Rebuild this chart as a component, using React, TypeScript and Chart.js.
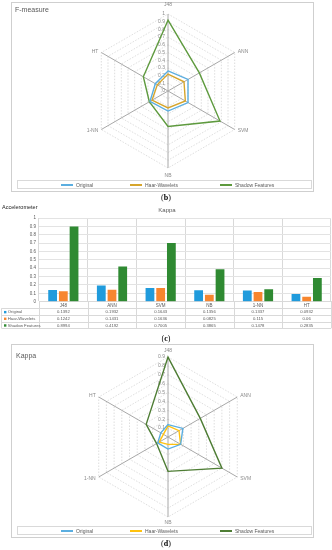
import React, { useEffect, useRef } from "react";
import { Chart, registerables } from "chart.js";
Chart.register(...registerables);

const categories = ["J48", "ANN", "SVM", "NB", "1-NN", "HT"];
const seriesNames = ["Original", "Haar-Wavelets", "Shadow Features"];

// F-measure (radar b)
const fOriginal = [0.26, 0.3, 0.3, 0.26, 0.27, 0.19];
const fHaar = [0.22, 0.24, 0.26, 0.22, 0.24, 0.16];
const fShadow = [0.92, 0.47, 0.78, 0.46, 0.28, 0.37];

// Kappa (bar c + radar d), from the data table
const kOriginal = [0.1392, 0.1932, 0.1643, 0.1356, 0.1337, 0.0932];
const kHaar = [0.1242, 0.1431, 0.1636, 0.0825, 0.115, 0.06];
const kShadow = [0.8994, 0.4192, 0.7005, 0.3865, 0.1478, 0.2835];

const fRadarTicks = [0, 0.1, 0.2, 0.3, 0.4, 0.5, 0.6, 0.7, 0.8, 0.9, 1];
const kRadarTicks = [0.1, 0.2, 0.3, 0.4, 0.5, 0.6, 0.7, 0.8, 0.9];

const FONT = '"Liberation Sans", Arial, sans-serif';

const radarColorsB = ["#5BAEE0", "#D6A52C", "#5E9A3E"];
const radarColorsD = ["#5BAEE0", "#FFC20E", "#4E7D34"];
const barColors = ["#209BDC", "#F7862F", "#2F8A32"];

function Txt(props: { x: number; y: number; size: number; children: any; center?: boolean; color?: string; weight?: any; family?: string }) {
  const { x, y, size, center, color, weight, family } = props;
  return (
    <div
      style={{
        position: "absolute",
        left: x,
        top: y - size / 2,
        lineHeight: size + "px",
        fontSize: size,
        color: color || "#595959",
        fontWeight: weight || "normal",
        fontFamily: family || FONT,
        whiteSpace: "nowrap",
        transform: center ? "translateX(-50%)" : "translateZ(0)",
        willChange: "transform",
        background: "transparent",
      }}
    >
      {props.children}
    </div>
  );
}

function makeRadarPlugin(tickVals: number[], topOff: number, botOff: number) {
  return {
    id: "radarText",
    beforeDatasetsDraw(chart: any) {
      const s = chart.scales.r;
      const ctx = chart.ctx;
      ctx.save();
      ctx.font = "5px " + FONT;
      ctx.fillStyle = "#8A8A8A";
      ctx.textAlign = "right";
      ctx.textBaseline = "middle";
      tickVals.forEach((v) => {
        const d = s.getDistanceFromCenterForValue(v);
        ctx.fillText(String(v), s.xCenter - 3, s.yCenter - d);
      });
      const r = s.drawingArea;
      categories.forEach((lab, i) => {
        const p = s.getPointPosition(i, r);
        let x = p.x;
        let y = p.y;
        let align = "center";
        if (i === 0) {
          x = s.xCenter;
          y = s.yCenter - r - topOff;
        } else if (i === 3) {
          x = s.xCenter;
          y = s.yCenter + r + botOff;
        } else if (i < 3) {
          x += 3;
          align = "left";
          y += i === 1 ? -1 : 1.5;
        } else {
          x -= 3;
          align = "right";
          y += i === 5 ? -1 : 1.5;
        }
        ctx.textAlign = align;
        ctx.fillText(lab, x, y);
      });
      ctx.restore();
    },
  };
}

function RadarChart(props: { top: number; height: number; pad: any; series: number[][]; colors: string[]; max: number; ticks: number[]; topOff: number; botOff: number }) {
  const ref = useRef<HTMLCanvasElement>(null);
  useEffect(() => {
    const chart = new Chart(ref.current as HTMLCanvasElement, {
      type: "radar",
      data: {
        labels: categories,
        datasets: props.series.map((d, i) => ({
          label: seriesNames[i],
          data: d,
          borderColor: props.colors[i],
          backgroundColor: "transparent",
          borderWidth: 1.4,
          fill: false,
          pointRadius: 0,
          pointHoverRadius: 0,
        })),
      },
      options: {
        responsive: false,
        animation: false,
        layout: { padding: props.pad },
        plugins: { legend: { display: false }, tooltip: { enabled: false } },
        scales: {
          r: {
            min: 0,
            max: props.max,
            ticks: { display: false, stepSize: 0.1 },
            pointLabels: { display: false },
            grid: { color: "#D6D6D6", lineWidth: 0.8 },
            border: { dash: [1.5, 1.5] },
            angleLines: { color: "#A8A8A8", lineWidth: 1 },
          } as any,
        },
      },
      plugins: [makeRadarPlugin(props.ticks, props.topOff, props.botOff)],
    } as any);
    return () => chart.destroy();
  }, []);
  return (
    <canvas
      ref={ref}
      width={332}
      height={props.height}
      style={{ position: "absolute", left: 0, top: props.top, width: 332, height: props.height, display: "block" }}
    />
  );
}

function Legend(props: { top: number; colors: string[] }) {
  const lines = [
    [61, 73],
    [130, 142],
    [220, 232],
  ];
  return (
    <div style={{ position: "absolute", left: 17, top: props.top, width: 295, height: 9, border: "1px solid #D9D9D9", boxSizing: "border-box" }}>
      {lines.map((l, i) => (
        <React.Fragment key={i}>
          <div style={{ position: "absolute", left: l[0] - 18, top: 3, width: l[1] - l[0], height: 1.5, background: props.colors[i] }} />
          <div style={{ position: "absolute", left: l[1] - 18 + 2.5, top: 0.8, fontSize: 5, lineHeight: "6px", color: "#595959", fontFamily: FONT, whiteSpace: "nowrap", willChange: "transform" }}>
            {seriesNames[i]}
          </div>
        </React.Fragment>
      ))}
    </div>
  );
}

const tablePlugin = {
  id: "dataTable",
  afterDraw(chart: any) {
    const ctx = chart.ctx;
    const xs = chart.scales.x;
    const a = chart.chartArea;
    const n = categories.length;
    const p0 = xs.getPixelForValue(0);
    const step = xs.getPixelForValue(1) - p0;
    const bounds = categories.map((_, i) => p0 - step / 2 + i * step).concat([p0 - step / 2 + n * step]);
    const headH = 6.6;
    const rowH = 6.67;
    const top = a.bottom;
    const y1 = top + headH;
    const bottom = y1 + rowH * 3;
    const leftX = 1.5;
    ctx.save();
    ctx.strokeStyle = "#D9D9D9";
    ctx.lineWidth = 1;
    ctx.beginPath();
    bounds.forEach((b) => {
      const bx = Math.round(b) + 0.5;
      ctx.moveTo(bx, top);
      ctx.lineTo(bx, bottom);
    });
    ctx.moveTo(leftX, y1);
    ctx.lineTo(leftX, bottom);
    for (let k = 0; k <= 3; k++) {
      const y = Math.round(y1 + k * rowH) + 0.5;
      ctx.moveTo(leftX, y);
      ctx.lineTo(bounds[n], y);
    }
    ctx.stroke();
    const rows = [kOriginal, kHaar, kShadow];
    ctx.textBaseline = "middle";
    ctx.font = "4.2px " + FONT;
    rows.forEach((row, k) => {
      const cy = y1 + rowH * (k + 0.5) + 0.5;
      ctx.fillStyle = barColors[k];
      ctx.fillRect(4, cy - 1.2, 2.4, 2.4);
      ctx.fillStyle = "#595959";
      ctx.textAlign = "left";
      ctx.fillText(seriesNames[k], 7.8, cy);
      ctx.textAlign = "center";
      row.forEach((v, i) => ctx.fillText(String(v), (bounds[i] + bounds[i + 1]) / 2, cy));
    });
    ctx.restore();
  },
};

function BarChart(props: { top: number; height: number }) {
  const ref = useRef<HTMLCanvasElement>(null);
  useEffect(() => {
    const chart = new Chart(ref.current as HTMLCanvasElement, {
      type: "bar",
      data: {
        labels: categories,
        datasets: [kOriginal, kHaar, kShadow].map((d, i) => ({
          label: seriesNames[i],
          data: d,
          backgroundColor: barColors[i],
          categoryPercentage: 0.66,
          barPercentage: 0.82,
        })),
      },
      options: {
        responsive: false,
        animation: false,
        layout: { padding: { top: 16, right: 1, bottom: 24.3, left: 0 } },
        plugins: { legend: { display: false }, tooltip: { enabled: false } },
        scales: {
          x: {
            grid: { color: "#D9D9D9", offset: true, drawTicks: false },
            border: { color: "#D9D9D9" },
            ticks: { font: { size: 4.5, family: FONT }, color: "#595959", padding: 1, maxRotation: 0, autoSkip: false },
            afterFit: (s: any) => {
              s.height = 6;
            },
          },
          y: {
            min: 0,
            max: 1,
            ticks: {
              stepSize: 0.1,
              autoSkip: false,
              maxTicksLimit: 20,
              font: { size: 4.5, family: FONT },
              color: "#595959",
              padding: 3,
              callback: (v: any) => String(Math.round(Number(v) * 10) / 10),
            },
            grid: { color: "#E3E3E3", drawTicks: false },
            border: { display: false },
            afterFit: (s: any) => {
              s.width = 39;
            },
          },
        },
      },
      plugins: [tablePlugin],
    } as any);
    return () => chart.destroy();
  }, []);
  return (
    <canvas
      ref={ref}
      width={332}
      height={props.height}
      style={{ position: "absolute", left: 0, top: props.top, width: 332, height: props.height, display: "block" }}
    />
  );
}

function Caption(props: { y: number; letter: string }) {
  return (
    <Txt x={166} y={props.y} size={8} center color="#000" family='"Liberation Serif", serif'>
      (<b>{props.letter}</b>)
    </Txt>
  );
}

export default function App() {
  return (
    <div style={{ position: "absolute", left: 0, top: 0, width: 332, height: 550, background: "#fff", overflow: "hidden" }}>
      {/* (b) F-measure radar */}
      <div style={{ position: "absolute", left: 11, top: 2, width: 303, height: 190, border: "1px solid #CFCFCF", boxSizing: "border-box" }} />
      <Txt x={15} y={9} size={7}>F-measure</Txt>
      <RadarChart
        top={0}
        height={178}
        pad={{ top: 13.5, bottom: 9.5, left: 68, right: 64 }}
        series={[fOriginal, fHaar, fShadow]}
        colors={radarColorsB}
        max={1}
        ticks={fRadarTicks}
        topOff={9}
        botOff={8}
      />
      <Legend top={180} colors={radarColorsB} />
      <Caption y={198} letter="b" />

      {/* (c) Kappa bar chart with data table */}
      <Txt x={2} y={208} size={5.5} color="#222">Accelerometer</Txt>
      <Txt x={167} y={209.5} size={6} center>Kappa</Txt>
      <BarChart top={202} height={130} />
      <Caption y={339} letter="c" />

      {/* (d) Kappa radar */}
      <div style={{ position: "absolute", left: 11, top: 344, width: 303, height: 194, border: "1px solid #CFCFCF", boxSizing: "border-box" }} />
      <Txt x={16} y={355} size={7}>Kappa</Txt>
      <RadarChart
        top={344}
        height={182}
        pad={{ top: 13, bottom: 9, left: 68, right: 64 }}
        series={[kOriginal, kHaar, kShadow]}
        colors={radarColorsD}
        max={0.9}
        ticks={kRadarTicks}
        topOff={6}
        botOff={6}
      />
      <Legend top={526} colors={radarColorsD} />
      <Caption y={543.5} letter="d" />
    </div>
  );
}
